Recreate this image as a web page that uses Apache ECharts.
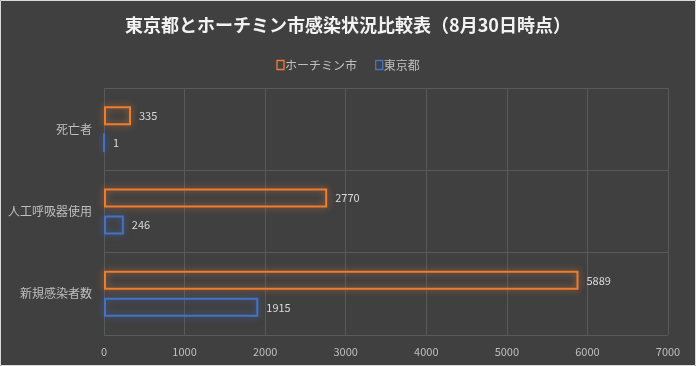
<!DOCTYPE html>
<html><head><meta charset="utf-8">
<script src="https://cdn.jsdelivr.net/npm/echarts@6/dist/echarts.min.js"></script>
<style>html,body{margin:0;padding:0;background:#404040;}#c{width:696px;height:366px;}</style>
</head><body><div id="c"></div>
<script>
const categories = ['新規感染者数', '人工呼吸器使用', '死亡者'];
const hcmValues = [5889, 2770, 335];
const tokyoValues = [1915, 246, 1];
const seriesNames = ['ホーチミン市', '東京都'];
const xTicks = {min: 0, max: 7000, interval: 1000};
const titleText = '東京都とホーチミン市感染状況比較表（8月30日時点）';

const FONT = "'Noto Sans CJK JP', 'Noto Sans', sans-serif";
const chart = echarts.init(document.getElementById('c'), null, {renderer: 'canvas'});
function barSeries(name, data, color, glow) {
  return {
    name: name, type: 'bar', data: data, barWidth: 19, barGap: '42%',
    itemStyle: {color: 'rgba(0,0,0,0)', borderColor: color, borderWidth: 2, shadowColor: glow, shadowBlur: 7},
    label: {show: true, position: 'right', distance: 8, color: '#d9d9d9', fontSize: 11, fontFamily: FONT},
    emphasis: {disabled: true}, animation: false
  };
}
chart.setOption({
  backgroundColor: '#404040',
  animation: false,
  title: {text: titleText, left: 'center', top: 11,
    textStyle: {color: '#f2f2f2', fontSize: 18, fontWeight: 'bold', fontFamily: FONT}},
  legend: {data: seriesNames, top: 54, left: 'center', itemWidth: 7, itemHeight: 9, itemGap: 18,
    icon: 'rect',
    itemStyle: {borderWidth: 1.3},
    textStyle: {color: '#bfbfbf', fontSize: 12, fontFamily: FONT, padding: [0,0,0,-4]}},
  grid: {left: 104, right: 28, top: 88, bottom: 31, containLabel: false, show: false},
  xAxis: {type: 'value', min: xTicks.min, max: xTicks.max, interval: xTicks.interval,
    axisLine: {show: false}, axisTick: {show: false},
    axisLabel: {color: '#bfbfbf', fontSize: 11, fontFamily: FONT, margin: 11,
      formatter: function (v) { return String(v); }},
    splitLine: {show: true, lineStyle: {color: '#595959', width: 1}}},
  yAxis: {type: 'category', data: categories,
    axisLine: {show: false}, axisTick: {show: false},
    axisLabel: {color: '#bfbfbf', fontSize: 12, fontFamily: FONT, margin: 12},
    splitLine: {show: true, lineStyle: {color: '#595959', width: 1}}},
  series: [
    barSeries(seriesNames[0], hcmValues, '#ED7D31', 'rgba(237,125,49,0.75)'),
    barSeries(seriesNames[1], tokyoValues, '#4472C4', 'rgba(68,114,196,0.75)')
  ],
  graphic: [{type: 'rect', shape: {x: 0.5, y: 0.5, width: 695, height: 365},
    style: {fill: null, stroke: '#d9d9d9', lineWidth: 1}, silent: true}]
});
</script></body></html>
